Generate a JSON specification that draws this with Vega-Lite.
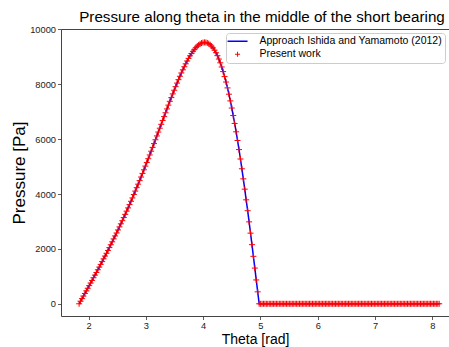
{
  "$schema": "https://vega.github.io/schema/vega-lite/v6.json",
  "width": 388,
  "height": 287,
  "autosize": {"type": "none"},
  "padding": {"left": 61, "top": 29, "right": 0, "bottom": 31},
  "background": "white",
  "title": {"text": "Pressure along theta in the middle of the short bearing", "font": "Liberation Sans", "fontSize": 15.2, "fontWeight": "normal", "color": "black", "anchor": "middle", "dx": 7, "dy": 16.5, "baseline": "alphabetic", "offset": 5},
  "config": {
    "view": {"stroke": "#444", "strokeWidth": 1},
    "axis": {"domain": false, "grid": false, "tickSize": 3.5, "tickColor": "#333", "tickWidth": 0.8, "labelFont": "Liberation Sans", "labelFontSize": 9.3, "labelColor": "#222", "labelPadding": 2, "titleFont": "Liberation Sans", "titleFontWeight": "normal", "titleColor": "black"}
  },
  "data": {"values": [
    {"t":1.836,"p":0},{"t":1.861,"p":94},{"t":1.886,"p":188},{"t":1.911,"p":282},{"t":1.937,"p":377},{"t":1.962,"p":471},{"t":1.987,"p":566},{"t":2.012,"p":661},{"t":2.037,"p":757},{"t":2.062,"p":852},
    {"t":2.087,"p":949},{"t":2.112,"p":1045},{"t":2.138,"p":1142},{"t":2.163,"p":1240},{"t":2.188,"p":1338},{"t":2.213,"p":1437},{"t":2.238,"p":1537},{"t":2.263,"p":1638},{"t":2.288,"p":1739},{"t":2.314,"p":1841},
    {"t":2.339,"p":1944},{"t":2.364,"p":2048},{"t":2.389,"p":2152},{"t":2.414,"p":2258},{"t":2.439,"p":2365},{"t":2.464,"p":2473},{"t":2.490,"p":2581},{"t":2.515,"p":2691},{"t":2.540,"p":2803},{"t":2.565,"p":2915},
    {"t":2.590,"p":3028},{"t":2.615,"p":3143},{"t":2.640,"p":3259},{"t":2.665,"p":3376},{"t":2.691,"p":3495},{"t":2.716,"p":3615},{"t":2.741,"p":3736},{"t":2.766,"p":3858},{"t":2.791,"p":3982},{"t":2.816,"p":4107},
    {"t":2.841,"p":4233},{"t":2.866,"p":4360},{"t":2.892,"p":4489},{"t":2.917,"p":4619},{"t":2.942,"p":4751},{"t":2.967,"p":4883},{"t":2.992,"p":5017},{"t":3.017,"p":5151},{"t":3.042,"p":5287},{"t":3.068,"p":5424},
    {"t":3.093,"p":5561},{"t":3.118,"p":5700},{"t":3.143,"p":5839},{"t":3.168,"p":5978},{"t":3.193,"p":6118},{"t":3.218,"p":6259},{"t":3.244,"p":6400},{"t":3.269,"p":6541},{"t":3.294,"p":6682},{"t":3.319,"p":6822},
    {"t":3.344,"p":6962},{"t":3.369,"p":7102},{"t":3.394,"p":7241},{"t":3.419,"p":7379},{"t":3.445,"p":7515},{"t":3.470,"p":7650},{"t":3.495,"p":7783},{"t":3.520,"p":7914},{"t":3.545,"p":8043},{"t":3.570,"p":8169},
    {"t":3.595,"p":8292},{"t":3.620,"p":8412},{"t":3.646,"p":8528},{"t":3.671,"p":8639},{"t":3.696,"p":8746},{"t":3.721,"p":8849},{"t":3.746,"p":8946},{"t":3.771,"p":9037},{"t":3.796,"p":9122},{"t":3.822,"p":9200},
    {"t":3.847,"p":9271},{"t":3.872,"p":9334},{"t":3.897,"p":9390},{"t":3.922,"p":9436},{"t":3.947,"p":9474},{"t":3.972,"p":9502},{"t":3.997,"p":9520},{"t":4.023,"p":9527},{"t":4.048,"p":9524},{"t":4.073,"p":9508},
    {"t":4.098,"p":9481},{"t":4.123,"p":9442},{"t":4.148,"p":9389},{"t":4.173,"p":9324},{"t":4.199,"p":9244},{"t":4.224,"p":9150},{"t":4.249,"p":9043},{"t":4.274,"p":8920},{"t":4.299,"p":8783},{"t":4.324,"p":8631},
    {"t":4.349,"p":8463},{"t":4.374,"p":8280},{"t":4.400,"p":8082},{"t":4.425,"p":7868},{"t":4.450,"p":7639},{"t":4.475,"p":7395},{"t":4.500,"p":7135},{"t":4.525,"p":6861},{"t":4.550,"p":6572},{"t":4.576,"p":6268},
    {"t":4.601,"p":5951},{"t":4.626,"p":5620},{"t":4.651,"p":5277},{"t":4.676,"p":4921},{"t":4.701,"p":4554},{"t":4.726,"p":4177},{"t":4.751,"p":3789},{"t":4.777,"p":3392},{"t":4.802,"p":2986},{"t":4.827,"p":2574},
    {"t":4.852,"p":2155},{"t":4.877,"p":1730},{"t":4.902,"p":1302},{"t":4.927,"p":869},{"t":4.952,"p":435},{"t":4.978,"p":0},{"t":5.003,"p":0},{"t":5.028,"p":0},{"t":5.053,"p":0},{"t":5.078,"p":0},
    {"t":5.103,"p":0},{"t":5.128,"p":0},{"t":5.154,"p":0},{"t":5.179,"p":0},{"t":5.204,"p":0},{"t":5.229,"p":0},{"t":5.254,"p":0},{"t":5.279,"p":0},{"t":5.304,"p":0},{"t":5.330,"p":0},
    {"t":5.355,"p":0},{"t":5.380,"p":0},{"t":5.405,"p":0},{"t":5.430,"p":0},{"t":5.455,"p":0},{"t":5.480,"p":0},{"t":5.505,"p":0},{"t":5.531,"p":0},{"t":5.556,"p":0},{"t":5.581,"p":0},
    {"t":5.606,"p":0},{"t":5.631,"p":0},{"t":5.656,"p":0},{"t":5.681,"p":0},{"t":5.707,"p":0},{"t":5.732,"p":0},{"t":5.757,"p":0},{"t":5.782,"p":0},{"t":5.807,"p":0},{"t":5.832,"p":0},
    {"t":5.857,"p":0},{"t":5.882,"p":0},{"t":5.908,"p":0},{"t":5.933,"p":0},{"t":5.958,"p":0},{"t":5.983,"p":0},{"t":6.008,"p":0},{"t":6.033,"p":0},{"t":6.058,"p":0},{"t":6.084,"p":0},
    {"t":6.109,"p":0},{"t":6.134,"p":0},{"t":6.159,"p":0},{"t":6.184,"p":0},{"t":6.209,"p":0},{"t":6.234,"p":0},{"t":6.259,"p":0},{"t":6.285,"p":0},{"t":6.310,"p":0},{"t":6.335,"p":0},
    {"t":6.360,"p":0},{"t":6.385,"p":0},{"t":6.410,"p":0},{"t":6.435,"p":0},{"t":6.461,"p":0},{"t":6.486,"p":0},{"t":6.511,"p":0},{"t":6.536,"p":0},{"t":6.561,"p":0},{"t":6.586,"p":0},
    {"t":6.611,"p":0},{"t":6.636,"p":0},{"t":6.662,"p":0},{"t":6.687,"p":0},{"t":6.712,"p":0},{"t":6.737,"p":0},{"t":6.762,"p":0},{"t":6.787,"p":0},{"t":6.812,"p":0},{"t":6.838,"p":0},
    {"t":6.863,"p":0},{"t":6.888,"p":0},{"t":6.913,"p":0},{"t":6.938,"p":0},{"t":6.963,"p":0},{"t":6.988,"p":0},{"t":7.013,"p":0},{"t":7.039,"p":0},{"t":7.064,"p":0},{"t":7.089,"p":0},
    {"t":7.114,"p":0},{"t":7.139,"p":0},{"t":7.164,"p":0},{"t":7.189,"p":0},{"t":7.214,"p":0},{"t":7.240,"p":0},{"t":7.265,"p":0},{"t":7.290,"p":0},{"t":7.315,"p":0},{"t":7.340,"p":0},
    {"t":7.365,"p":0},{"t":7.390,"p":0},{"t":7.416,"p":0},{"t":7.441,"p":0},{"t":7.466,"p":0},{"t":7.491,"p":0},{"t":7.516,"p":0},{"t":7.541,"p":0},{"t":7.566,"p":0},{"t":7.592,"p":0},
    {"t":7.617,"p":0},{"t":7.642,"p":0},{"t":7.667,"p":0},{"t":7.692,"p":0},{"t":7.717,"p":0},{"t":7.742,"p":0},{"t":7.767,"p":0},{"t":7.793,"p":0},{"t":7.818,"p":0},{"t":7.843,"p":0},
    {"t":7.868,"p":0},{"t":7.893,"p":0},{"t":7.918,"p":0},{"t":7.943,"p":0},{"t":7.968,"p":0},{"t":7.993,"p":0},{"t":8.019,"p":0},{"t":8.044,"p":0},{"t":8.069,"p":0},{"t":8.094,"p":0},
    {"t":8.119,"p":0}
  ]},
  "layer": [
    {
      "mark": {"type": "line", "strokeWidth": 1.5, "clip": true},
      "encoding": {
        "x": {"field": "t", "type": "quantitative", "scale": {"domain": [1.52, 8.29], "nice": false, "zero": false}, "axis": {"values": [2, 3, 4, 5, 6, 7, 8], "format": "d", "title": "Theta [rad]", "titleFontSize": 14, "titlePadding": 1.5}},
        "y": {"field": "p", "type": "quantitative", "scale": {"domain": [-445, 10015], "nice": false, "zero": false}, "axis": {"values": [0, 2000, 4000, 6000, 8000, 10000], "format": "d", "title": "Pressure [Pa]", "titleFontSize": 17, "titlePadding": 1}},
        "color": {
          "datum": "Approach Ishida and Yamamoto (2012)",
          "scale": {"domain": ["Approach Ishida and Yamamoto (2012)", "Present work"], "range": ["#0000ff", "#ff0000"]},
          "legend": {
            "title": null, "orient": "top-right", "offset": 3.7,
            "fillColor": "white", "strokeColor": "#cccccc", "cornerRadius": 3, "padding": 3,
            "labelFont": "Liberation Sans", "labelFontSize": 10.5, "labelColor": "black", "labelOffset": 16.6, "labelLimit": 300,
            "symbolSize": 100, "symbolOffset": 3.3, "rowPadding": 2,
            "encode": {"symbols": {"update": {
              "shape": {"signal": "datum.value === 'Present work' ? 'M-0.5,0L0.5,0M0,-0.5L0,0.5' : 'M-2,0L2,0'"},
              "stroke": {"signal": "datum.value === 'Present work' ? '#ff0000' : '#0000ff'"},
              "fill": {"value": "transparent"},
              "strokeWidth": {"signal": "datum.value === 'Present work' ? 1 : 1.5"},
              "opacity": {"value": 1}
            }}}
          }
        }
      }
    },
    {
      "mark": {"type": "point", "shape": "M-1,0L1,0M0,-1L0,1", "size": 36, "filled": false, "opacity": 1, "strokeWidth": 1, "clip": true},
      "encoding": {
        "x": {"field": "t", "type": "quantitative"},
        "y": {"field": "p", "type": "quantitative"},
        "color": {"datum": "Present work"}
      }
    }
  ]
}
